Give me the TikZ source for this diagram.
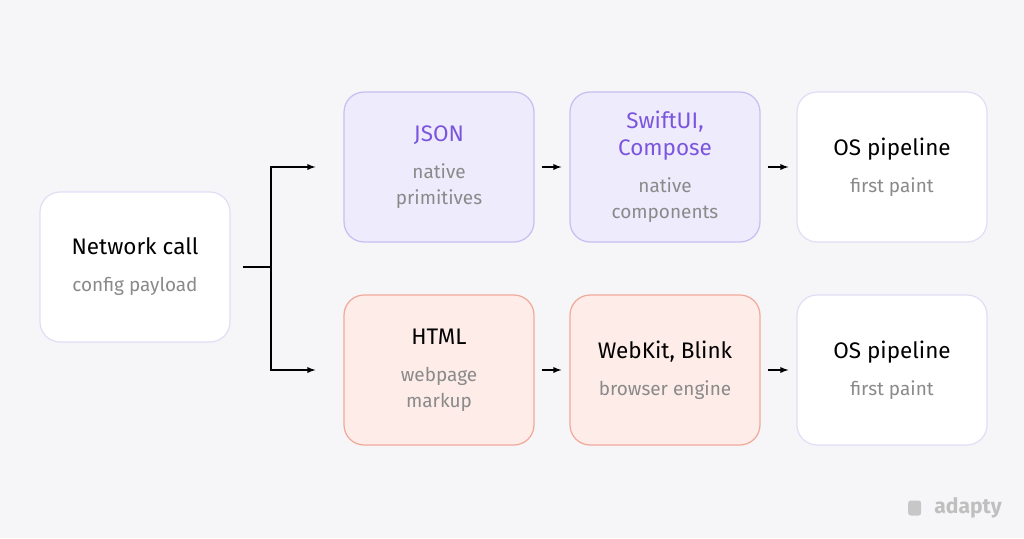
\documentclass[tikz,border=0pt]{standalone}
\usepackage{fontspec}
\setmainfont{Fira Sans}
\usetikzlibrary{positioning}
\definecolor{bgc}{HTML}{F6F6F8}
\definecolor{vfill}{HTML}{EEEBFC}
\definecolor{vdraw}{HTML}{C9BEF3}
\definecolor{vtext}{HTML}{7B55DE}
\definecolor{rfill}{HTML}{FDECE8}
\definecolor{rdraw}{HTML}{F1A99A}
\definecolor{wdraw}{HTML}{E2DEF6}
\definecolor{subc}{HTML}{8A8A8A}
\newcommand{\ttlfont}{\fontsize{12.8}{15}\selectfont}
\newcommand{\subfont}{\fontsize{10.8}{12.5}\selectfont\color{subc}}
\tikzset{
  box/.style={draw,line width=0.7pt,rounded corners=0.4cm,minimum width=3.8cm,minimum height=3cm,align=center,font=\ttlfont},
  wbox/.style={box,fill=white,draw=wdraw},
  vbox/.style={box,fill=vfill,draw=vdraw,text=vtext},
  rbox/.style={box,fill=rfill,draw=rdraw},
  arr/.style={-latex,line width=0.6pt}
}
\begin{document}
\begin{tikzpicture}[x=0.02cm,y=-0.02cm]
\fill[bgc] (0,0) rectangle (1024,538);
\node[wbox] (net) at (135,267) {Network call\\[6pt]\subfont config payload};
\node[vbox] (json) at (439,167) {JSON\\[6pt]\subfont native\\\subfont primitives};
\node[vbox] (swift) at (665,167) {SwiftUI,\\Compose\\[6pt]\subfont native\\\subfont components};
\node[wbox] (os1) at (892,167) {OS pipeline\\[6pt]\subfont first paint};
\node[rbox] (html) at (439,370) {HTML\\[6pt]\subfont webpage\\\subfont markup};
\node[rbox] (web) at (665,370) {WebKit, Blink\\[6pt]\subfont browser engine};
\node[wbox] (os2) at (892,370) {OS pipeline\\[6pt]\subfont first paint};
% branch
\coordinate (fork) at (271,267);
\draw[line width=0.6pt] ([xshift=0.24cm]net.east) -- (fork);
\draw[arr] (fork) |- ([xshift=-0.56cm]json.west);
\draw[arr] (fork) |- ([xshift=-0.56cm]html.west);
\foreach \a/\b in {json/swift,swift/os1,html/web,web/os2}
  \draw[arr] ([xshift=0.14cm]\a.east) -- ([xshift=-0.16cm]\b.west);
% logo
\node[text=black!25,font=\fontsize{12}{14}\selectfont\bfseries] (logo) at (968,508) {adapty};
\fill[black!22,rounded corners=1.5pt] ([xshift=-0.4cm,yshift=-0.15cm]logo.west) rectangle ++(0.26cm,0.3cm);
\end{tikzpicture}
\end{document}
